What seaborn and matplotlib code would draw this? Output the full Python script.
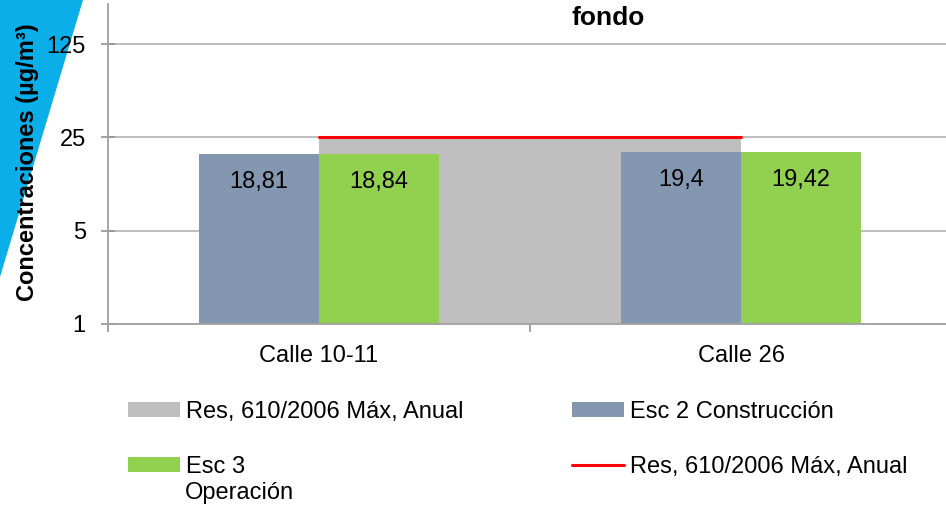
import matplotlib
matplotlib.use("Agg")
import matplotlib.pyplot as plt
from matplotlib.patches import Polygon, Patch
from matplotlib.lines import Line2D
from matplotlib.ticker import FixedLocator, NullFormatter
import seaborn as sns
import numpy as np
import pandas as pd

# Data
categorias = ["Calle 10-11", "Calle 26"]
esc2_construccion = [18.81, 19.4]
esc3_operacion = [18.84, 19.42]
limite_anual = [25, 25]
y_ticks = [1, 5, 25, 125]

serie_esc2 = "Esc 2 Construcción"
serie_esc3 = "Esc 3"
serie_esc3_linea2 = "Operación"
serie_limite = "Res, 610/2006 Máx, Anual"

c_esc2 = "#8497B0"
c_esc3 = "#92D050"
c_area = "#BFBFBF"
c_linea = "#FF0000"
c_grid = "#ABABAB"

sns.set_theme(style="white")
plt.rcParams["font.family"] = ["Liberation Sans", "DejaVu Sans"]
plt.rcParams["text.color"] = "black"
plt.rcParams["axes.labelcolor"] = "black"
plt.rcParams["xtick.color"] = "black"
plt.rcParams["ytick.color"] = "black"

df = pd.DataFrame({
    "categoria": categorias * 2,
    "valor": esc2_construccion + esc3_operacion,
    "serie": [serie_esc2] * len(categorias) + [serie_esc3] * len(categorias),
})

W, H = 946, 509
fig = plt.figure(figsize=(W / 100, H / 100), dpi=100)
ax = fig.add_axes([108 / W, 1 - 324 / H, (952 - 108) / W, (324 - 4) / H])

# Decorative corner wedge
fig.patches.append(Polygon([(0, 1), (83 / W, 1), (0, 1 - 277 / H)], closed=True,
                           transform=fig.transFigure, facecolor="#0AAEE8",
                           edgecolor="none", zorder=-1))

ax.set_yscale("log", base=5)
x_pos = np.arange(len(categorias))

# Limit shown as area between category centres, plus a red line on top
ax.fill_between(x_pos, limite_anual, 1e-3, color=c_area, linewidth=0, zorder=1)

sns.barplot(data=df, x="categoria", y="valor", hue="serie",
            palette=[c_esc2, c_esc3], width=0.57, saturation=1,
            ax=ax, legend=False, zorder=2, edgecolor="none", linewidth=0)

sns.lineplot(x=x_pos, y=limite_anual, color=c_linea, linewidth=2.2, ax=ax,
             zorder=3, legend=False)

# Value labels near the bar tops
for cont in ax.containers:
    for bar in cont:
        v = bar.get_height()
        txt = format(v, "g").replace(".", ",")
        ax.annotate(txt, (bar.get_x() + bar.get_width() / 2, v),
                    xytext=(0, -20), textcoords="offset points",
                    ha="center", va="center", fontsize=17, color="black",
                    zorder=4)

ax.set_xlim(-0.5, len(categorias) - 0.5)
ax.set_ylim(1, 250)
ax.yaxis.set_major_locator(FixedLocator(y_ticks))
ax.set_yticklabels([str(t) for t in y_ticks])
ax.yaxis.set_minor_locator(FixedLocator([]))
ax.yaxis.grid(True, color=c_grid, linewidth=1.1, zorder=0)
ax.set_axisbelow(True)

ax.xaxis.set_minor_locator(FixedLocator(np.arange(-0.5, len(categorias), 1.0)))
ax.xaxis.set_minor_formatter(NullFormatter())
ax.tick_params(axis="x", which="major", length=0, pad=15, labelsize=17,
               labelcolor="black")
ax.tick_params(axis="x", which="minor", length=6, width=1.1, color="#8C8C8C",
               direction="out", bottom=True)
ax.tick_params(axis="y", which="major", length=10, width=1.1, color="#8C8C8C",
               direction="inout", left=True, pad=11, labelsize=17,
               labelcolor="black")

for side in ["top", "right"]:
    ax.spines[side].set_visible(False)
for side in ["left", "bottom"]:
    ax.spines[side].set_color("#A0A0A0")
    ax.spines[side].set_linewidth(1.3)

ax.set_xlabel("")
ax.set_ylabel("")
fig.text(28 / W, 1 - 162 / H, "Concentraciones (µg/m³)", rotation=90,
         ha="center", va="center", fontsize=17, fontweight="bold")
fig.text(608 / W, 1 - 18 / H, "fondo", ha="center", va="center",
         fontsize=19, fontweight="bold")

handles = [
    Patch(facecolor=c_area, edgecolor="none"),
    Patch(facecolor=c_esc3, edgecolor="none"),
    Patch(facecolor=c_esc2, edgecolor="none"),
    Line2D([0], [0], color=c_linea, linewidth=2.2),
]
labels = [serie_limite, serie_esc3, serie_esc2, serie_limite]
fig.legend(handles, labels, ncol=2, loc="upper left",
           bbox_to_anchor=(128 / W, 1 - 401 / H), frameon=False,
           fontsize=17, handlelength=2.2, handleheight=0.6,
           handletextpad=0.25, columnspacing=4.6, labelspacing=1.38,
           borderpad=0, borderaxespad=0)
# Second line of the "Esc 3" legend label
fig.text(185 / W, 1 - 493 / H, serie_esc3_linea2, ha="left", va="center",
         fontsize=17)

fig.savefig("out.png", dpi=100)
